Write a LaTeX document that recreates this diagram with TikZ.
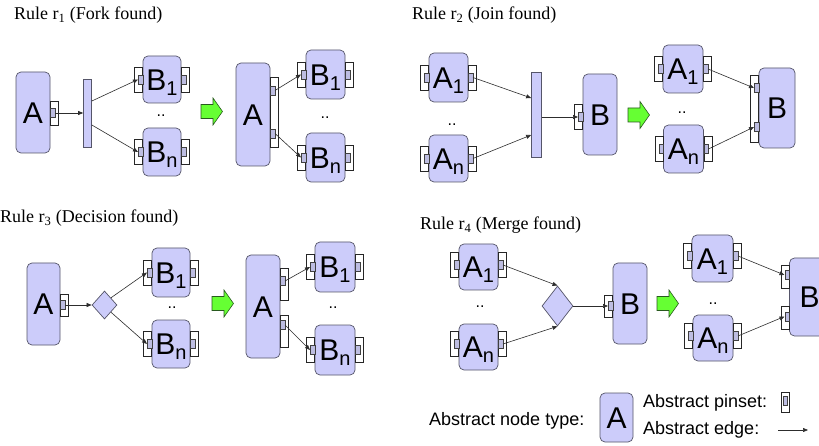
\documentclass[tikz,border=0pt]{standalone}
\usepackage{fontspec}
\setmainfont{Liberation Serif}
\setsansfont{Liberation Sans}
\usetikzlibrary{arrows.meta,shapes.geometric}

\definecolor{lav}{RGB}{204,204,250}
\definecolor{nodeline}{RGB}{85,85,105}
\definecolor{edgeline}{RGB}{45,45,45}
\definecolor{gfill}{RGB}{102,255,51}
\definecolor{gline}{RGB}{40,90,30}

% label with a lowered index (A_1, B_n)
\newcommand\lbl[2]{#1\raisebox{-5pt}{\fontsize{20}{20}\selectfont #2}}

% pinset on the right / left side of a node edge at x=#2, centre y=#3, height #4
\newcommand\mkpinR[4]{%
  \node[pinout, minimum height=#4pt, anchor=west] (#1o) at (#2,#3) {};
  \node[pinin, anchor=west] (#1) at (#2,#3) {};}
\newcommand\mkpinL[4]{%
  \node[pinout, minimum height=#4pt, anchor=east] (#1o) at (#2,#3) {};
  \node[pinin, anchor=east] (#1) at (#2,#3) {};}

% green rewrite arrow, left end at (#1,#2)
\newcommand\rewritearrow[2]{%
  \draw[rewrite] (#1,#2) ++(0,-7) -- ++(12,0) -- ++(0,-6.5) -- ++(9.5,13.5)
    -- ++(-9.5,13.5) -- ++(0,-6.5) -- ++(-12,0) -- cycle;}

\begin{document}
\begin{tikzpicture}[x=1pt,y=-1pt,
  absnode/.style={draw=nodeline, fill=lav, rounded corners=5pt, line width=0.7pt,
    inner sep=0pt, font=\sffamily\fontsize{30}{30}\selectfont,
    text height=21.5pt, text depth=0pt},
  barbox/.style={draw=nodeline, fill=lav, line width=0.7pt, inner sep=0pt},
  decbox/.style={diamond, draw=nodeline, fill=lav, line width=0.7pt, inner sep=0pt},
  pinout/.style={draw=black!85, fill=white, line width=0.6pt, minimum width=8pt, inner sep=0pt},
  pinin/.style={draw=black!75, fill=lav!80!gray, line width=0.5pt,
    minimum width=4.5pt, minimum height=9pt, inner sep=0pt},
  absedge/.style={draw=edgeline, line width=0.6pt, -{Triangle[length=5pt,width=4pt]}},
  ellip/.style={font=\sffamily\fontsize{16}{16}\selectfont, inner sep=0pt},
  ruletitle/.style={font=\fontsize{18}{18}\selectfont, anchor=base west, inner sep=0pt},
  legtext/.style={font=\sffamily\fontsize{18}{18}\selectfont, anchor=base west, inner sep=0pt},
  rewrite/.style={draw=gline, fill=gfill, line width=0.6pt}
]
\fill[white] (0,0) rectangle (819,446);
\useasboundingbox (0,0) rectangle (819,446);

% ---------------- Rule r1: fork ----------------
\node[ruletitle] (t1) at (14,20) {Rule r\textsubscript{1} (Fork found)};
\node[absnode, minimum width=34pt, minimum height=81pt] (a1) at (33,112.5) {A};
\mkpinR{a1p}{50}{113}{24}
\node[barbox, minimum width=8pt, minimum height=68pt] (f1) at (87.5,113) {};
\node[absnode, minimum width=38pt, minimum height=47pt] (b11) at (162,79.5) {\lbl{B}{1}};
\mkpinL{b11l}{143}{79.5}{25}
\mkpinR{b11r}{181}{79.5}{25}
\node[absnode, minimum width=38pt, minimum height=48pt] (b1n) at (162,152) {\lbl{B}{n}};
\mkpinL{b1nl}{143}{152}{25}
\mkpinR{b1nr}{181}{152}{25}
\node[ellip] (d1) at (161,116) {..};
\draw[absedge] (a1p.east) -- (a1p.east -| f1.west);
\draw[absedge] ([yshift=12pt]f1.east) -- (b11l.west);
\draw[absedge] ([yshift=-12pt]f1.east) -- (b1nl.west);

\rewritearrow{201}{111.5}

\node[absnode, minimum width=34pt, minimum height=103pt] (a1x) at (253,114.5) {A};
\node[pinout, minimum height=70pt, anchor=west] (a1xo) at (270,112) {};
\node[pinin, anchor=west] (a1xp1) at (270,90.5) {};
\node[pinin, anchor=west] (a1xp2) at (270,133.5) {};
\node[absnode, minimum width=39pt, minimum height=49pt] (b11x) at (325.5,74.5) {\lbl{B}{1}};
\mkpinL{b11xl}{306}{74.5}{25}
\mkpinR{b11xr}{345}{74.5}{25}
\node[absnode, minimum width=39pt, minimum height=49pt] (b1nx) at (325.5,157.5) {\lbl{B}{n}};
\mkpinL{b1nxl}{306}{157.5}{25}
\mkpinR{b1nxr}{345}{157.5}{25}
\node[ellip] (d1x) at (325,118) {..};
\draw[absedge] (a1xp1.east) -- (b11xl.west);
\draw[absedge] (a1xp2.east) -- (b1nxl.west);

% ---------------- Rule r2: join ----------------
\node[ruletitle] (t2) at (412,20) {Rule r\textsubscript{2} (Join found)};
\node[absnode, minimum width=39pt, minimum height=49pt] (a21) at (448.5,77.5) {\lbl{A}{1}};
\mkpinL{a21l}{429}{77.5}{25}
\mkpinR{a21r}{468}{77.5}{25}
\node[absnode, minimum width=39pt, minimum height=47pt] (a2n) at (448.5,158.5) {\lbl{A}{n}};
\mkpinL{a2nl}{429}{158.5}{25}
\mkpinR{a2nr}{468}{158.5}{25}
\node[ellip] (d2) at (452,125) {..};
\node[barbox, minimum width=10pt, minimum height=85pt] (j2) at (536.5,114.5) {};
\node[absnode, minimum width=34pt, minimum height=81pt] (b2) at (600,114.5) {B};
\mkpinL{b2l}{583}{117}{25}
\draw[absedge] (a21r.east) -- ([yshift=16.5pt]j2.west);
\draw[absedge] (a2nr.east) -- ([yshift=-20.5pt]j2.west);
\draw[absedge] (b2l.west -| j2.east) -- (b2l.west);

\rewritearrow{628}{115}

\node[absnode, minimum width=40pt, minimum height=48pt] (a21x) at (683,69) {\lbl{A}{1}};
\mkpinL{a21xl}{663}{69}{25}
\mkpinR{a21xr}{703}{69}{25}
\node[absnode, minimum width=40pt, minimum height=48pt] (a2nx) at (683.5,149) {\lbl{A}{n}};
\mkpinL{a2nxl}{663.5}{149}{25}
\mkpinR{a2nxr}{703.5}{149}{25}
\node[ellip] (d2x) at (682,113) {..};
\node[absnode, minimum width=36pt, minimum height=80pt] (b2x) at (777,108) {B};
\node[pinout, minimum height=67pt, anchor=east] (b2xo) at (759,108.5) {};
\node[pinin, anchor=east] (b2xp1) at (759,88) {};
\node[pinin, anchor=east] (b2xp2) at (759,127) {};
\draw[absedge] (a21xr.east) -- (b2xp1.west);
\draw[absedge] (a2nxr.east) -- (b2xp2.west);

% ---------------- Rule r3: decision ----------------
\node[ruletitle] (t3) at (0,223) {Rule r\textsubscript{3} (Decision found)};
\node[absnode, minimum width=33pt, minimum height=82pt] (a3) at (43.5,304) {A};
\mkpinR{a3p}{60}{305}{22}
\node[decbox, minimum width=25pt, minimum height=28pt] (x3) at (104.5,305) {};
\node[absnode, minimum width=38pt, minimum height=49pt] (b31) at (171,272.5) {\lbl{B}{1}};
\mkpinL{b31l}{152}{272.5}{25}
\mkpinR{b31r}{190}{272.5}{25}
\node[absnode, minimum width=38pt, minimum height=48pt] (b3n) at (171,344) {\lbl{B}{n}};
\mkpinL{b3nl}{152}{344}{25}
\mkpinR{b3nr}{190}{344}{25}
\node[ellip] (d3) at (172,308) {..};
\draw[absedge] (a3p.east) -- (x3.west);
\draw[absedge] (x3.north east) -- (b31l.west);
\draw[absedge] (x3.south east) -- (b3nl.west);

\rewritearrow{212}{303.5}

\node[absnode, minimum width=34pt, minimum height=103pt] (a3x) at (263,306.5) {A};
\node[pinout, minimum height=32pt, anchor=west] (a3xo1) at (280,284) {};
\node[pinin, anchor=west] (a3xp1) at (280,281) {};
\node[pinout, minimum height=32pt, anchor=west] (a3xo2) at (280,331) {};
\node[pinin, anchor=west] (a3xp2) at (280,325) {};
\node[absnode, minimum width=40pt, minimum height=50pt] (b31x) at (335,267) {\lbl{B}{1}};
\mkpinL{b31xl}{315}{267}{25}
\mkpinR{b31xr}{355}{267}{25}
\node[absnode, minimum width=40pt, minimum height=50pt] (b3nx) at (335,350) {\lbl{B}{n}};
\mkpinL{b3nxl}{315}{350}{25}
\mkpinR{b3nxr}{355}{350}{25}
\node[ellip] (d3x) at (333,308) {..};
\draw[absedge] (a3xp1.east) -- (b31xl.west);
\draw[absedge] (a3xp2.east) -- (b3nxl.west);

% ---------------- Rule r4: merge ----------------
\node[ruletitle] (t4) at (420,230) {Rule r\textsubscript{4} (Merge found)};
\node[absnode, minimum width=39pt, minimum height=46pt] (a41) at (478.5,267) {\lbl{A}{1}};
\mkpinL{a41l}{459}{265}{25}
\mkpinR{a41r}{498}{265}{25}
\node[absnode, minimum width=39pt, minimum height=46pt] (a4n) at (478.5,347) {\lbl{A}{n}};
\mkpinL{a4nl}{459}{344}{25}
\mkpinR{a4nr}{498}{344}{25}
\node[ellip] (d4) at (480,307) {..};
\node[decbox, minimum width=31pt, minimum height=40pt] (x4) at (557.5,306) {};
\node[absnode, minimum width=34pt, minimum height=81pt] (b4) at (630,303.5) {B};
\mkpinL{b4l}{613}{306}{22}
\draw[absedge] (a41r.east) -- (x4.north);
\draw[absedge] (a4nr.east) -- (x4.south);
\draw[absedge] (x4.east) -- (b4l.west);

\rewritearrow{657}{303.5}

\node[absnode, minimum width=41pt, minimum height=47pt] (a41x) at (712.5,258.5) {\lbl{A}{1}};
\mkpinL{a41xl}{692}{256}{25}
\mkpinR{a41xr}{733}{256}{25}
\node[absnode, minimum width=40pt, minimum height=46pt] (a4nx) at (713,338) {\lbl{A}{n}};
\mkpinL{a4nxl}{693}{336}{25}
\mkpinR{a4nxr}{733}{336}{25}
\node[ellip] (d4x) at (713,304) {..};
\node[absnode, minimum width=40pt, minimum height=78pt] (b4x) at (809.5,297) {B};
\node[pinout, minimum height=23pt, anchor=east] (b4xo1) at (789.5,276.5) {};
\node[pinin, anchor=east] (b4xp1) at (789.5,275) {};
\node[pinout, minimum height=23pt, anchor=east] (b4xo2) at (789.5,317.5) {};
\node[pinin, anchor=east] (b4xp2) at (789.5,316.5) {};
\draw[absedge] (a41xr.east) -- (b4xp1.west);
\draw[absedge] (a4nxr.east) -- (b4xp2.west);

% ---------------- legend ----------------
\node[legtext] (lnode) at (429,425) {Abstract node type:};
\node[absnode, minimum width=33pt, minimum height=49pt] (lA) at (616.5,417.5) {A};
\node[legtext] (lpin) at (643,407) {Abstract pinset:};
\node[pinout, minimum height=20pt] (lpo) at (785.5,402) {};
\node[pinin, minimum width=4pt, anchor=west] (lpi) at (783,401) {};
\node[legtext] (ledge) at (643,434) {Abstract edge:};
\coordinate (le1) at (778,430);
\coordinate (le2) at (808,430);
\draw[absedge] (le1) -- (le2);
\end{tikzpicture}
\end{document}
